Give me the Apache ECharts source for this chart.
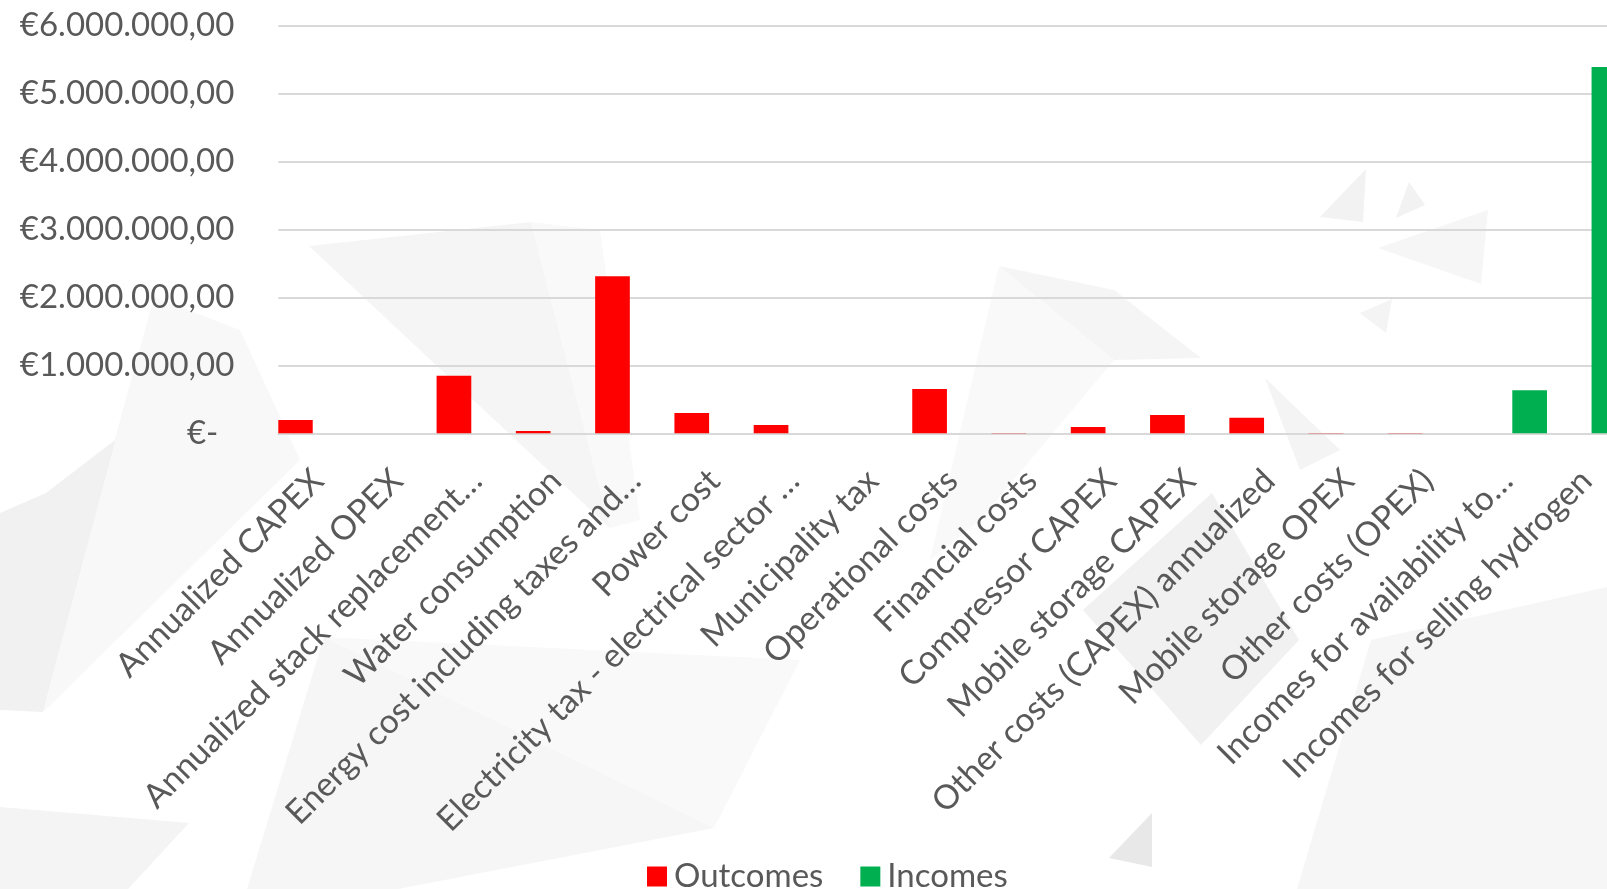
<!DOCTYPE html>
<html>
<head>
<meta charset="utf-8">
<script src="https://cdn.jsdelivr.net/npm/echarts@6/dist/echarts.min.js"></script>
<style>
html,body{margin:0;padding:0;background:#fff;width:1607px;height:889px;overflow:hidden;}
#c{width:1626px;height:889px;}
</style>
</head>
<body>
<div id="c"></div>
<script>
const categories = [
  'Annualized CAPEX',
  'Annualized OPEX',
  'Annualized stack replacement…',
  'Water consumption',
  'Energy cost including taxes and…',
  'Power cost',
  'Electricity tax - electrical sector …',
  'Municipality tax',
  'Operational costs',
  'Financial costs',
  'Compressor CAPEX',
  'Mobile storage CAPEX',
  'Other costs (CAPEX) annualized',
  'Mobile storage OPEX',
  'Other costs (OPEX)',
  'Incomes for availability to…',
  'Incomes for selling hydrogen'
];
const outcomes = [195000, 0, 848000, 34000, 2310000, 300000, 122000, 0, 652000, 3000, 92000, 270000, 230000, 3000, 3000, 0, 0];
const incomes  = [0, 0, 0, 0, 0, 0, 0, 0, 0, 0, 0, 0, 0, 0, 0, 634000, 5385000];
const yTicks = { min: 0, max: 6000000, interval: 1000000 };

const FONT = 'Lato';
const TXT = '#595959';

function fmtEuro(v) {
  if (v === 0) return '{z|€-}';
  const s = Math.round(v).toString().replace(/\B(?=(\d{3})+(?!\d))/g, '.');
  return '€' + s + ',00';
}

// decorative faint background polygons (not data)
const bgShapes = [
  { pts: [[0,513],[46,493],[115,440],[154,297],[43,712],[0,710]], c: '#f1f1f1' },
  { pts: [[154,297],[240,330],[300,460],[43,712]], c: '#f8f8f8' },
  { pts: [[309,246],[531,222],[610,528]], c: '#f5f5f5' },
  { pts: [[531,222],[610,528],[640,520],[600,230]], c: '#f9f9f9' },
  { pts: [[999,266],[1114,290],[1201,358],[1114,360]], c: '#f5f5f5' },
  { pts: [[999,266],[1114,360],[980,520],[930,560]], c: '#f9f9f9' },
  { pts: [[1366,169],[1320,217],[1363,222]], c: '#f2f2f2' },
  { pts: [[1409,182],[1396,218],[1425,205]], c: '#f2f2f2' },
  { pts: [[1488,210],[1378,248],[1481,284]], c: '#f6f6f6' },
  { pts: [[1392,299],[1360,313],[1386,333]], c: '#f4f4f4' },
  { pts: [[1265,378],[1340,450],[1300,470]], c: '#f4f4f4' },
  { pts: [[324,637],[714,828],[398,889],[247,889]], c: '#f6f6f6' },
  { pts: [[324,637],[800,660],[714,828]], c: '#f9f9f9' },
  { pts: [[0,807],[189,823],[128,889],[0,889]], c: '#f4f4f4' },
  { pts: [[1152,813],[1109,858],[1152,867]], c: '#e8e8e8' },
  { pts: [[1371,640],[1607,587],[1607,889],[1297,889]], c: '#f6f6f6' },
  { pts: [[1083,610],[1212,493],[1299,640],[1201,745]], c: '#f1f1f1' }
];

const chart = echarts.init(document.getElementById('c'), null, { renderer: 'canvas' });
chart.setOption({
  backgroundColor: '#ffffff',
  animation: false,
  textStyle: { fontFamily: FONT },
  graphic: bgShapes.map(s => ({
    type: 'polygon', z: -100, silent: true,
    shape: { points: s.pts },
    style: { fill: s.c }
  })),
  grid: { left: 278.3, right: 0, top: 25.3, height: 408, containLabel: false },
  legend: {
    data: ['Outcomes', 'Incomes'],
    left: 642, top: 855,
    itemWidth: 20, itemHeight: 20, itemGap: 37,
    icon: 'rect',
    textStyle: { fontFamily: FONT, fontSize: 33, color: TXT, padding: [0, 0, 0, 2] }
  },
  xAxis: {
    type: 'category',
    data: categories,
    axisLine: { show: true, lineStyle: { color: '#d9d9d9', width: 2 } },
    axisTick: { show: false },
    axisLabel: {
      interval: 0, rotate: 45, margin: 42, hideOverlap: false,
      fontFamily: FONT, fontSize: 33.5, color: TXT,
      padding: [57, 0, 0, 0]
    }
  },
  yAxis: {
    type: 'value',
    min: yTicks.min, max: yTicks.max, interval: yTicks.interval,
    axisLine: { show: false },
    axisTick: { show: false },
    splitLine: { lineStyle: { color: '#d9d9d9', width: 2 } },
    axisLabel: {
      margin: 44, fontFamily: FONT, fontSize: 33, color: TXT,
      formatter: fmtEuro,
      rich: { z: { fontFamily: FONT, fontSize: 33, color: TXT, padding: [0, 16, 0, 0] } }
    }
  },
  series: [
    { name: 'Outcomes', type: 'bar', data: outcomes, barWidth: 34.7, barGap: '30%',
      itemStyle: { color: '#FF0000' } },
    { name: 'Incomes', type: 'bar', data: incomes, barWidth: 34.7, barGap: '30%',
      itemStyle: { color: '#00B050' } }
  ]
});
</script>
</body>
</html>
